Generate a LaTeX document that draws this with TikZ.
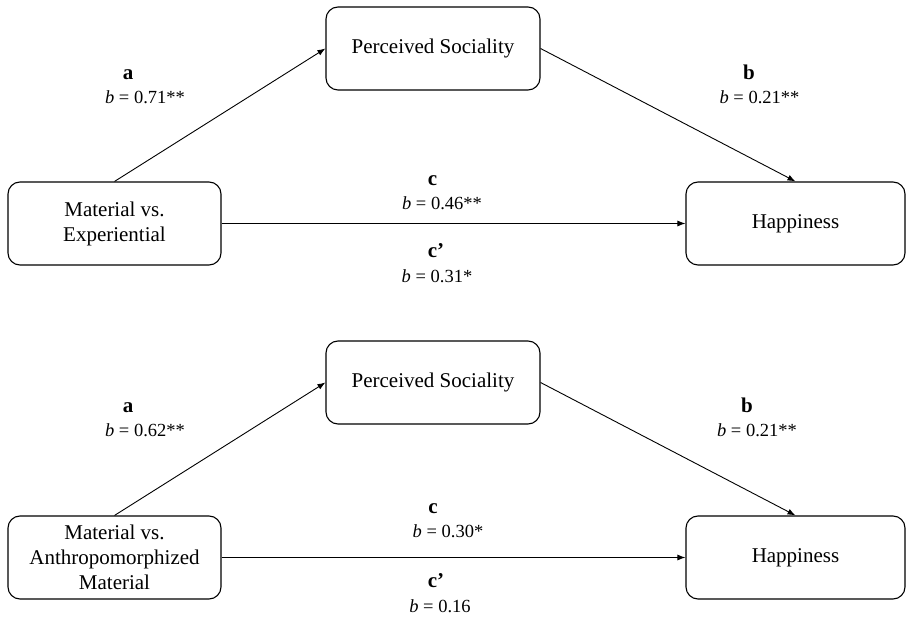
\documentclass[tikz,border=0pt]{standalone}
\usepackage{fontspec}
\setmainfont{Liberation Serif}
\usetikzlibrary{arrows.meta}
\begin{document}
\begin{tikzpicture}[x=1pt,y=-1pt,
  box/.style={draw, line width=1.1pt, rounded corners=12pt, align=center,
    minimum height=83pt, inner sep=0pt, font=\fontsize{21}{25}\selectfont},
  path/.style={draw, line width=0.9pt, -{Latex[length=8pt,width=6pt]}},
  lbl/.style={anchor=base, inner sep=0pt, font=\fontsize{21}{25}\selectfont\bfseries},
  coef/.style={anchor=base, inner sep=0pt, font=\fontsize{18.5}{22}\selectfont}]
\useasboundingbox (0,0) rectangle (906,617);
% top model
\node[box, minimum width=213pt] (m1) at (114.5,223.5) {Material vs.\\Experiential};
\node[box, minimum width=214pt] (ps1) at (433,48.5) {Perceived Sociality};
\node[box, minimum width=219pt] (h1) at (795.5,223.5) {Happiness};
\draw[path] (m1.north) -- (ps1.west);
\draw[path] (ps1.east) -- (h1.north);
\draw[path] (m1.east) -- (h1.west);
\node[lbl] (a1) at (128,80) {a};
\node[coef] (ca1) at (145,103.5) {\textit{b} = 0.71**};
\node[lbl] (b1) at (749,80) {b};
\node[coef] (cb1) at (759.5,103.5) {\textit{b} = 0.21**};
\node[lbl] (c1) at (432.5,186) {c};
\node[coef] (cc1) at (442,210) {\textit{b} = 0.46**};
\node[lbl] (d1) at (436,258) {c’};
\node[coef] (cd1) at (437,283) {\textit{b} = 0.31*};
% bottom model
\node[box, minimum width=213pt] (m2) at (114.5,557.5) {Material vs.\\Anthropomorphized\\Material};
\node[box, minimum width=214pt] (ps2) at (433,382.5) {Perceived Sociality};
\node[box, minimum width=219pt] (h2) at (795.5,557.5) {Happiness};
\draw[path] (m2.north) -- (ps2.west);
\draw[path] (ps2.east) -- (h2.north);
\draw[path] (m2.east) -- (h2.west);
\node[lbl] (a2) at (128,413) {a};
\node[coef] (ca2) at (145,437) {\textit{b} = 0.62**};
\node[lbl] (b2) at (747,413) {b};
\node[coef] (cb2) at (757,437) {\textit{b} = 0.21**};
\node[lbl] (c2) at (433,514) {c};
\node[coef] (cc2) at (448,538) {\textit{b} = 0.30*};
\node[lbl] (d2) at (436,588) {c’};
\node[coef] (cd2) at (440,613) {\textit{b} = 0.16};
\end{tikzpicture}
\end{document}
